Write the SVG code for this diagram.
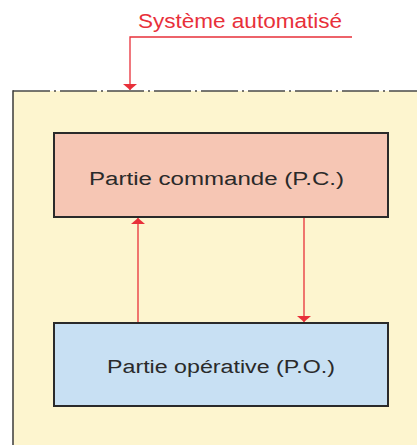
<svg xmlns="http://www.w3.org/2000/svg" width="417" height="445" viewBox="0 0 417 445">
  <style>
    .lbl { font-family: "Liberation Sans", Arial, sans-serif; fill: #2a2a2a; font-size: 18px; text-anchor: middle; }
    .title { font-family: "Liberation Sans", Arial, sans-serif; fill: #e8303a; font-size: 20.5px; }
    .box { stroke: #2a2a2a; stroke-width: 2; }
    .red { stroke: #e8303a; stroke-width: 1.3; fill: none; }
  </style>
  <defs>
    <marker id="ah" viewBox="0 0 6 14" refX="6" refY="7" markerWidth="6" markerHeight="14" markerUnits="userSpaceOnUse" orient="auto">
      <path d="M0,7 L6,0 L6,14 Z" fill="#e8303a" transform="rotate(180 3 7)"/>
    </marker>
  </defs>
  <rect width="417" height="445" fill="#ffffff"/>
  <g id="system">
    <rect x="13" y="91" width="404" height="354" fill="#fdf5cf"/>
    <line x1="13" y1="91" x2="417" y2="91" stroke="#4a4a4a" stroke-width="1.5" stroke-dasharray="37 4 2 4"/>
    <line x1="13" y1="90.3" x2="13" y2="445" stroke="#3a3a3a" stroke-width="1.5"/>
  </g>
  <g id="title">
    <text class="title" x="138" y="28" textLength="204" lengthAdjust="spacingAndGlyphs">Système automatisé</text>
  </g>
  <g id="pc">
    <rect class="box" x="54" y="133" width="334" height="84" fill="#f6c6b4"/>
    <text class="lbl" x="216.5" y="185" textLength="255" lengthAdjust="spacingAndGlyphs">Partie commande (P.C.)</text>
  </g>
  <g id="po">
    <rect class="box" x="54" y="323" width="334" height="83" fill="#c8e0f3"/>
    <text class="lbl" x="221" y="373" textLength="228" lengthAdjust="spacingAndGlyphs">Partie opérative (P.O.)</text>
  </g>
  <g id="connectors">
    <polyline class="red" points="352,37 130,37 130,90" marker-end="url(#ah)"/>
    <line class="red" x1="138" y1="322" x2="138" y2="218" marker-end="url(#ah)"/>
    <line class="red" x1="304" y1="218" x2="304" y2="322" marker-end="url(#ah)"/>
  </g>
</svg>
